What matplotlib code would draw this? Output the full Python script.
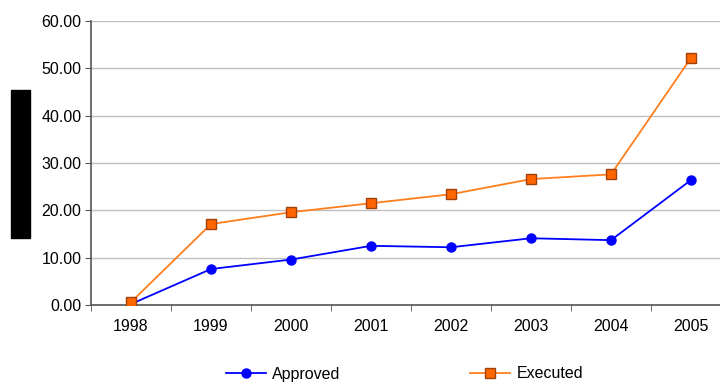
import matplotlib.pyplot as plt
from matplotlib.patches import Rectangle
import numpy as np

plt.rcParams['font.family'] = ['Liberation Sans', 'DejaVu Sans']

years = ['1998', '1999', '2000', '2001', '2002', '2003', '2004', '2005']
approved = [0.2, 7.6, 9.6, 12.5, 12.2, 14.1, 13.7, 26.4]
executed = [0.6, 17.1, 19.6, 21.5, 23.4, 26.6, 27.6, 52.2]

fig = plt.figure(figsize=(7.2, 3.83), dpi=100)
# plot area runs a bit past the right edge of the figure
ax = fig.add_axes([91 / 720, 1 - 305 / 383, 640 / 720, 284 / 383])

x = np.arange(len(years))
ax.plot(x, approved, color='#0000ff', lw=1.3, marker='o', ms=6.5,
        mfc='#0000ff', mec='#0000ff', label='Approved', zorder=3)
ax.plot(x, executed, color='#ff7f1e', lw=1.3, marker='s', ms=6.5,
        mfc='#ff6600', mec='#a0400a', mew=1.0, label='Executed', zorder=3)

ax.set_xlim(-0.5, len(years) - 0.5)
ax.set_ylim(0, 60)
ax.set_yticks(np.arange(0, 61, 10))
ax.set_yticklabels([f'{v:.2f}' for v in np.arange(0, 61, 10)], fontsize=11.5)
ax.set_xticks(x)
ax.set_xticklabels(years, fontsize=11.5)
ax.tick_params(axis='x', which='major', length=0, pad=10)
ax.set_xticks(np.arange(-0.5, len(years), 1), minor=True)
ax.tick_params(axis='x', which='minor', length=4, color='#555555')
ax.tick_params(axis='y', length=4, color='#555555', pad=3)

ax.yaxis.grid(True, color='#c0c0c0', lw=1)
ax.set_axisbelow(True)
for side in ['top', 'right']:
    ax.spines[side].set_visible(False)
for side in ['left', 'bottom']:
    ax.spines[side].set_color('#555555')
    ax.spines[side].set_linewidth(1.2)

# label block on the left
fig.patches.append(Rectangle((11 / 720, 1 - 238 / 383), 19 / 720, 148 / 383,
                             transform=fig.transFigure, color='black'))

leg = fig.legend(loc='center', bbox_to_anchor=(0.562, 1 - 374 / 383), ncol=2,
                 frameon=False, fontsize=11.5, columnspacing=8.1,
                 handlelength=2.5, handletextpad=0.4, borderaxespad=0)

fig.savefig('out.png', dpi=100)
